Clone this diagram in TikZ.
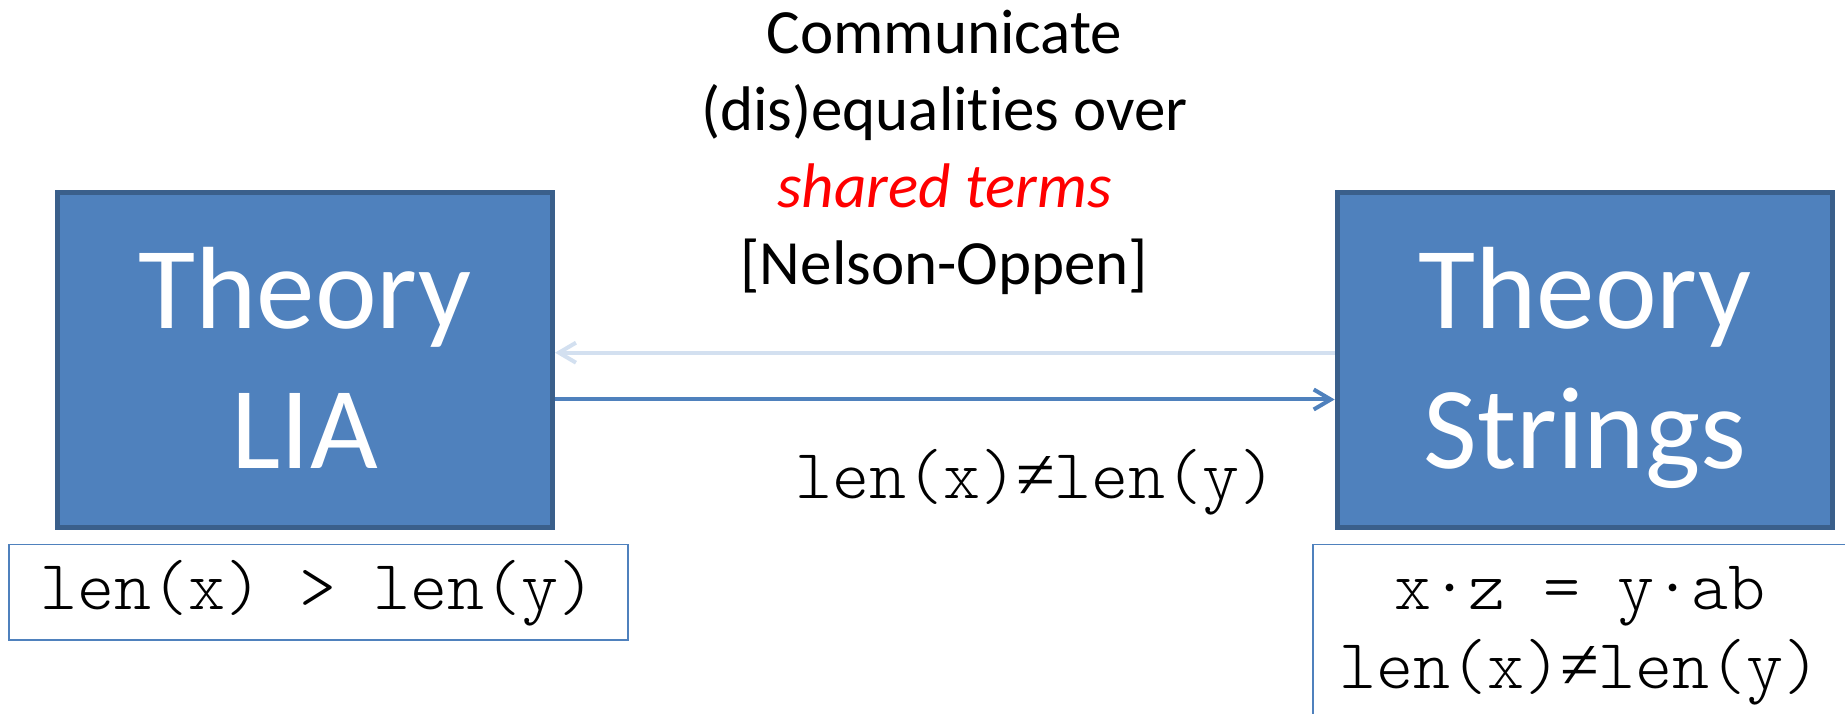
\documentclass[tikz,border=0pt]{standalone}
\usepackage{fontspec}
\setmainfont{Carlito}[Ligatures=NoCommon]
\newfontfamily\codefont{lmmonolt10-regular.otf}
\newfontfamily\neqfont{Liberation Serif}
\usetikzlibrary{arrows.meta}
\definecolor{boxfill}{HTML}{4F81BD}
\definecolor{boxline}{HTML}{3A5F8B}
\definecolor{paleblue}{HTML}{D3E0F0}
\definecolor{sharedred}{HTML}{FF0000}
\newcommand{\mneq}{\makebox[0.525em]{\neqfont ≠}}
\begin{document}
\begin{tikzpicture}[x=1pt,y=1pt,
  theorybox/.style={draw=boxline, fill=boxfill, line width=5pt, minimum width=495.5pt, minimum height=335.2pt, inner sep=0pt},
  theorytext/.style={text=white, font=\fontsize{117pt}{140pt}\selectfont, align=center, inner sep=0pt},
  codebox/.style={draw=boxfill, line width=1.5pt, inner sep=0pt},
  codetext/.style={font=\codefont\fontsize{70.5pt}{78.8pt}\selectfont, inner sep=0pt, align=center},
  toptext/.style={font=\fontsize{63pt}{77pt}\selectfont, align=center, inner sep=0pt},
  palearrow/.style={draw=paleblue, line width=4pt, -{Straight Barb[length=17pt,width=20pt]}},
  darkarrow/.style={draw=boxfill, line width=4pt, -{Straight Barb[length=17pt,width=20pt]}}
]
\useasboundingbox (0,0) rectangle (1845,714);

% theory boxes
\node[theorybox] (lia) at (304.75,354.1) {};
\node[theorybox] (str) at (1584.9,354.1) {};
\node[theorytext] (liaTxt) at ([yshift=-11.1pt]lia.center) {\strut Theory\\\strut LIA};
\node[theorytext] (strTxt) at ([yshift=-11.1pt]str.center) {\strut Theory\\\strut Strings};

% top text
\node[toptext] (comm) at (944.5,560.4) {\strut Communicate\\\strut (dis)equalities over\\\strut\textcolor{sharedred}{\itshape shared terms}\\\strut [Nelson-Oppen]};

% arrows
\draw[palearrow] ([yshift=7.2pt]str.west) -- ([yshift=7.2pt]lia.east);
\draw[darkarrow] ([yshift=-39.6pt]lia.east) -- ([yshift=-39.6pt]str.west);

% arrow label
\node[codetext, anchor=base] (lbl) at (1035.7,215) {len(x)\mneq len(y)};

% lower boxes
\node[codebox, codetext, text height=47.3pt, text depth=12pt, minimum width=619pt, minimum height=95.8pt] (liaCode) at (318.25,121.65) {len(x) > len(y)};
\node[codebox, minimum width=537pt, minimum height=220pt, anchor=north west] (strCode) at (1312.45,170.3) {};
\node[codetext] (strCodeTxt) at (1580,80.4) {\strut x·z = y·ab\\\strut len(x)\mneq len(y)};
\end{tikzpicture}
\end{document}
